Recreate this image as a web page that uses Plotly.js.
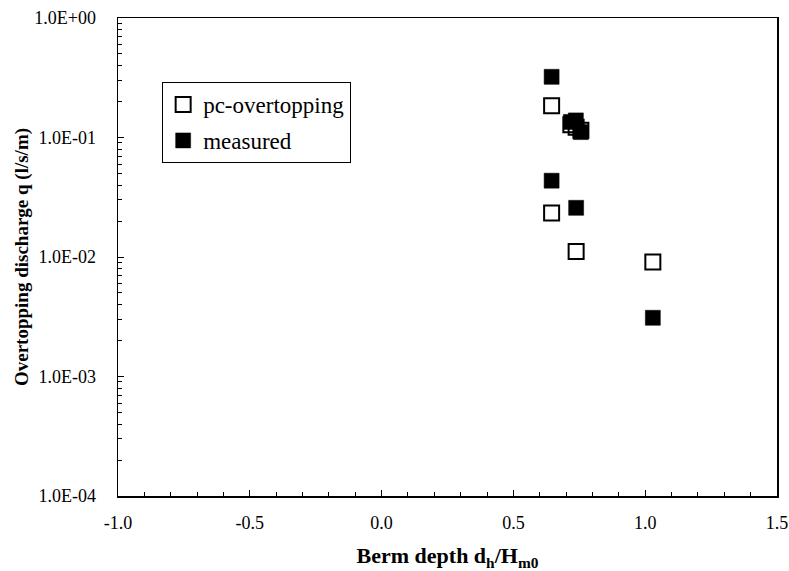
<!DOCTYPE html>
<html>
<head>
<meta charset="utf-8">
<script src="https://cdn.plot.ly/plotly-3.0.1.min.js"></script>
<style>html,body{margin:0;padding:0;background:#fff}#chart{width:789px;height:571px}</style>
</head>
<body>
<div id="chart"></div>
<script>
// Data
const pcX = [0.645, 0.645, 0.718, 0.738, 0.756, 0.738, 1.029];
const pcQ = [0.184, 0.0233, 0.128, 0.122, 0.115, 0.0111, 0.0091];
const measX = [0.645, 0.645, 0.718, 0.737, 0.756, 0.738, 1.029];
const measQ = [0.322, 0.0435, 0.135, 0.139, 0.111, 0.0258, 0.0031];

const xTickVals = [-1.0, -0.5, 0.0, 0.5, 1.0, 1.5];
const xTickText = ["-1.0", "-0.5", "0.0", "0.5", "1.0", "1.5"];
const yTickVals = [1e-4, 1e-3, 1e-2, 1e-1, 1];
const yTickText = ["1.0E-04", "1.0E-03", "1.0E-02", "1.0E-01", "1.0E+00"];

const yMinor = [];
for (let d = -4; d < 0; d++) for (let k = 2; k <= 9; k++) yMinor.push(k * Math.pow(10, d));

const font = "Liberation Serif, Times New Roman, serif";

const traces = [
  {
    x: pcX, y: pcQ, type: "scatter", mode: "markers", name: "pc-overtopping", legendgroup: "a",
    marker: {symbol: "square-open", size: 15, color: "#000", line: {width: 2, color: "#111"}}
  },
  {
    x: measX, y: measQ, type: "scatter", mode: "markers", name: "measured", legendgroup: "b",
    marker: {symbol: "square", size: 15, color: "#000", line: {width: 0.5, color: "#000"}}
  }
];

const layout = {
  width: 789, height: 571,
  margin: {l: 118, r: 12, t: 18, b: 75},
  paper_bgcolor: "#fff", plot_bgcolor: "#fff",
  font: {family: font, color: "#000", size: 18},
  showlegend: true,
  legend: {
    x: 0.067, y: 0.866, xanchor: "left", yanchor: "top",
    traceorder: "grouped", tracegroupgap: 3,
    bordercolor: "#000", borderwidth: 1, bgcolor: "#fff",
    font: {family: font, size: 23, color: "#000"}
  },
  xaxis: {
    range: [-1, 1.5], tickmode: "array", tickvals: xTickVals, ticktext: xTickText,
    ticks: "inside", ticklen: 6, tickwidth: 1, tickcolor: "#000",
    minor: {dtick: 0.1, tick0: -1, ticks: "inside", ticklen: 4, tickcolor: "#000", showgrid: false},
    showline: true, linecolor: "#000", linewidth: 1.5, mirror: true,
    showgrid: false, zeroline: false,
    ticklabelstandoff: 10,
    tickfont: {family: font, size: 18},
    title: {text: "<b>Berm depth d<sub>h</sub>/H<sub>m0</sub></b>", font: {family: font, size: 22}, standoff: 16}
  },
  yaxis: {
    type: "log", range: [-4, 0],
    tickmode: "array", tickvals: yTickVals, ticktext: yTickText,
    ticks: "inside", ticklen: 6, tickwidth: 1, tickcolor: "#000",
    minor: {tickmode: "array", tickvals: yMinor, ticks: "inside", ticklen: 4, tickcolor: "#000", showgrid: false},
    showline: true, linecolor: "#000", linewidth: 1.5, mirror: true,
    showgrid: false, zeroline: false,
    ticklabelstandoff: 17,
    tickfont: {family: font, size: 18},
    title: {text: "<b>Overtopping discharge q (l/s/m)</b>", font: {family: font, size: 19}, standoff: 0}
  }
};

Plotly.newPlot("chart", traces, layout, {displayModeBar: false, staticPlot: true});
</script>
</body>
</html>
